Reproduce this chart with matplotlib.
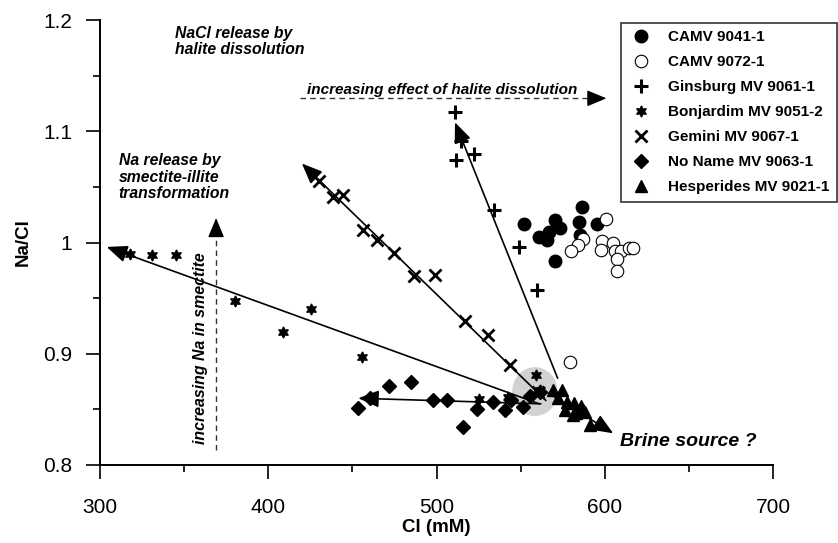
import matplotlib.pyplot as plt
from matplotlib.patches import Ellipse

plt.rcParams['font.family'] = ['Liberation Sans', 'DejaVu Sans']

# Cl (mM) and Na/Cl values
camv_9041_cl = [586.2, 551.9, 570.5, 584.7, 595.4, 573.3, 566.8, 561.0, 565.9, 585.2, 570.3]
camv_9041_na = [1.032, 1.017, 1.020, 1.018, 1.017, 1.013, 1.009, 1.005, 1.002, 1.007, 0.983]

camv_9072_cl = [601.0, 587.1, 584.1, 580.2, 598.6, 604.9, 598.0, 606.0, 609.9, 614.4, 616.5, 607.0, 607.0, 579.6]
camv_9072_na = [1.021, 1.003, 0.998, 0.992, 1.001, 1.000, 0.993, 0.992, 0.992, 0.995, 0.995, 0.985, 0.974, 0.893]

ginsburg_cl = [510.9, 514.5, 522.2, 511.5, 534.3, 549.1, 559.8]
ginsburg_na = [1.117, 1.091, 1.080, 1.074, 1.029, 0.996, 0.957]

bonjardim_cl = [317.8, 331.1, 344.9, 380.2, 408.9, 425.2, 455.9, 525.3, 542.6, 559.4, 561.8]
bonjardim_na = [0.990, 0.989, 0.989, 0.947, 0.920, 0.940, 0.897, 0.859, 0.861, 0.881, 0.867]

gemini_cl = [430.3, 438.6, 444.6, 456.1, 464.7, 474.7, 486.6, 499.1, 516.9, 530.7, 543.6, 560.4]
gemini_na = [1.055, 1.041, 1.043, 1.011, 1.002, 0.991, 0.970, 0.971, 0.929, 0.917, 0.890, 0.866]

noname_cl = [453.1, 460.4, 471.5, 484.6, 498.0, 506.4, 523.8, 533.3, 540.6, 544.0, 551.5, 515.9, 555.5, 561.8]
noname_na = [0.851, 0.860, 0.871, 0.875, 0.858, 0.858, 0.850, 0.857, 0.849, 0.858, 0.852, 0.834, 0.862, 0.866]

hesperides_cl = [569.3, 574.3, 572.3, 577.3, 581.6, 576.3, 582.8, 587.1, 586.0, 591.1, 581.1, 588.2]
hesperides_na = [0.867, 0.867, 0.860, 0.857, 0.856, 0.849, 0.847, 0.849, 0.853, 0.836, 0.845, 0.848]

# trend arrows: (start Cl, start Na, tip Cl, tip Na)
trend_arrows = [
    (572.0, 0.878, 511.0, 1.108),
    (565.0, 0.858, 420.0, 1.071),
    (561.0, 0.855, 304.0, 0.996),
    (562.0, 0.855, 453.5, 0.860),
    (565.0, 0.866, 605.0, 0.8285),
]

fig = plt.figure(figsize=(8.38, 5.43), dpi=100)
ax = fig.add_axes([100 / 838, 78 / 543, 673 / 838, 445 / 543])

ax.add_patch(Ellipse((558.5, 0.866), 27, 0.044, facecolor='#d2d2d2', edgecolor='none', zorder=1))

head = '-|>,head_length=0.6,head_width=0.25'
for x0, y0, x1, y1 in trend_arrows:
    ax.annotate('', xy=(x1, y1), xytext=(x0, y0),
                arrowprops=dict(arrowstyle=head, color='black', lw=1.2,
                                mutation_scale=21, shrinkA=0, shrinkB=0), zorder=4)

ax.plot(camv_9041_cl, camv_9041_na, 'o', ms=9, color='black', label='CAMV 9041-1', zorder=3)
ax.plot(camv_9072_cl, camv_9072_na, 'o', ms=9, mfc='white', mec='black', mew=0.8, label='CAMV 9072-1', zorder=3)
ax.plot(ginsburg_cl, ginsburg_na, '+', ms=10, mew=2.2, color='black', label='Ginsburg MV 9061-1', zorder=3)
ax.plot(bonjardim_cl, bonjardim_na, marker=(6, 1, 0), ls='none', ms=8, color='black', label='Bonjardim MV 9051-2', zorder=3)
ax.plot(gemini_cl, gemini_na, 'x', ms=9, mew=2, color='black', label='Gemini MV 9067-1', zorder=3)
ax.plot(noname_cl, noname_na, 'D', ms=7, color='black', label='No Name MV 9063-1', zorder=3)
ax.plot(hesperides_cl, hesperides_na, '^', ms=9, color='black', label='Hesperides MV 9021-1', zorder=3)

# dashed guide arrows
ax.plot([419, 598], [1.1296, 1.1296], ls=(0, (4, 3)), lw=1, color='#333333')
ax.annotate('', xy=(601, 1.1296), xytext=(595, 1.1296),
            arrowprops=dict(arrowstyle=head, color='black', lw=1,
                            mutation_scale=20, shrinkA=0, shrinkB=0))
ax.plot([369, 369], [0.8135, 1.015], ls=(0, (4, 3)), lw=1, color='#333333')
ax.annotate('', xy=(369, 1.022), xytext=(369, 1.012),
            arrowprops=dict(arrowstyle=head, color='black', lw=1,
                            mutation_scale=20, shrinkA=0, shrinkB=0))

txt = dict(fontweight='bold', fontstyle='italic', color='black')
ax.text(344.6, 1.195, 'NaCl release by\nhalite dissolution', fontsize=11.3, va='top', ha='left',
        linespacing=1.1, **txt)
ax.text(423, 1.137, 'increasing effect of halite dissolution', fontsize=11, va='center', ha='left', **txt)
ax.text(311, 1.080, 'Na release by\nsmectite-illite\ntransformation', fontsize=11.3, va='top', ha='left',
        linespacing=1.1, **txt)
ax.text(360, 0.905, 'increasing Na in smectite', fontsize=11.4, rotation=90, va='center', ha='center', **txt)
ax.text(609, 0.821, 'Brine source ?', fontsize=14, va='center', ha='left', **txt)

ax.set_xlim(300, 700)
ax.set_ylim(0.8, 1.2)
ax.set_xticks([300, 400, 500, 600, 700])
ax.set_xticks([350, 450, 550, 650], minor=True)
ax.set_yticks([0.8, 0.9, 1.0, 1.1, 1.2])
ax.set_yticks([0.85, 0.95, 1.05, 1.15], minor=True)
ax.set_yticklabels(['0.8', '0.9', '1', '1.1', '1.2'])
ax.tick_params(which='major', length=10, width=1.2, labelsize=15, direction='out')
ax.tick_params(axis='x', which='major', pad=14)
ax.tick_params(axis='y', which='major', pad=10)
ax.tick_params(which='minor', length=5, width=1.2, direction='out')
for side in ['top', 'right']:
    ax.spines[side].set_visible(False)
for side in ['left', 'bottom']:
    ax.spines[side].set_linewidth(1.4)

ax.set_xlabel('Cl (mM)', fontsize=13.5, fontweight='bold', labelpad=1)
ax.set_ylabel('Na/Cl', fontsize=13.5, fontweight='bold', labelpad=8)

leg = ax.legend(loc='upper right', bbox_to_anchor=(0.999, 0.958), bbox_transform=fig.transFigure,
                frameon=True, fancybox=False, labelspacing=0.72, handletextpad=1.0,
                borderpad=0.5, borderaxespad=0, handlelength=1.6,
                prop={'weight': 'bold', 'size': 11})
leg.get_frame().set_edgecolor('black')
leg.get_frame().set_linewidth(1.2)

fig.savefig('out.png', dpi=100)
